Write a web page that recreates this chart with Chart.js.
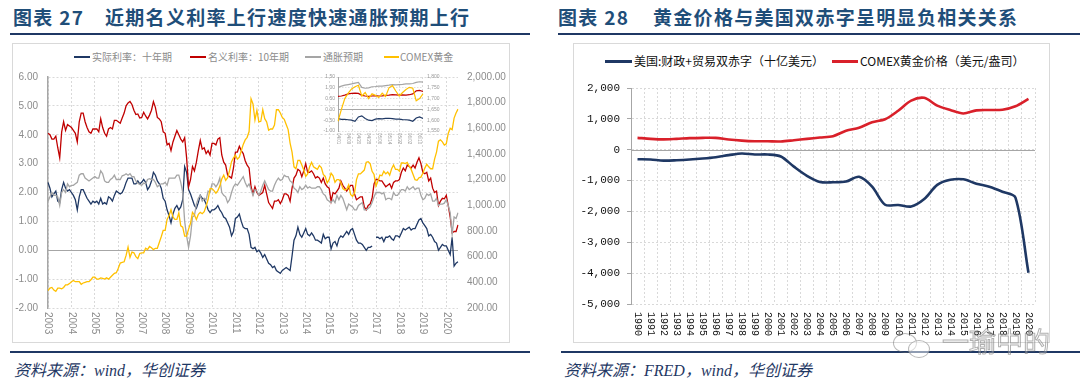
<!DOCTYPE html>
<html><head><meta charset="utf-8">
<script src="https://cdn.jsdelivr.net/npm/chart.js@4.4.1/dist/chart.umd.min.js"></script>
<style>
html,body{margin:0;padding:0;background:#fff;}
body{width:1080px;height:389px;overflow:hidden;position:relative;font-family:"Noto Sans CJK SC",sans-serif;}
.abs{position:absolute;}
.title{color:#1F4E79;font-weight:700;font-size:19px;line-height:20px;white-space:nowrap;letter-spacing:1.3px;}
.rule{background:#1F3864;height:2px;}
.box{border:1px solid #D9D9D9;box-sizing:border-box;}
.src{font-style:italic;color:#1F3864;font-size:16px;line-height:18px;font-family:"Liberation Serif","Noto Sans CJK SC",serif;white-space:nowrap;}
.lg{font-size:10px;line-height:12px;color:#8C8C8C;white-space:nowrap;}
.lgr{font-size:12px;line-height:14px;color:#111;white-space:nowrap;}
.ln{height:2px;}
.wm{font-size:27px;line-height:30px;color:rgba(255,255,255,0.3);-webkit-text-stroke:1px rgba(110,110,110,0.55);white-space:nowrap;font-family:"Noto Sans CJK SC";}
</style>
</head>
<body>
<!-- left panel -->
<div class="abs title" style="left:13px;top:7px;">图表 27</div>
<div class="abs title" style="left:105px;top:7px;">近期名义利率上行速度快速通胀预期上行</div>
<div class="abs rule" style="left:10px;top:33px;width:520px;"></div>
<div class="abs box" style="left:12px;top:43px;width:498px;height:300px;"></div>
<div class="abs ln" style="left:74px;top:56px;width:16px;background:#1F3864;"></div>
<div class="abs lg" style="left:92px;top:51px;">实际利率：十年期</div>
<div class="abs ln" style="left:190px;top:56px;width:16px;background:#C00000;"></div>
<div class="abs lg" style="left:208px;top:51px;">名义利率：10年期</div>
<div class="abs ln" style="left:305px;top:56px;width:16px;background:#A5A5A5;"></div>
<div class="abs lg" style="left:323px;top:51px;">通胀预期</div>
<div class="abs ln" style="left:384px;top:56px;width:15px;background:#FFC000;"></div>
<div class="abs lg" style="left:400px;top:51px;">COMEX黄金</div>
<div class="abs" style="left:13px;top:44px;"><canvas id="c1" width="496" height="298"></canvas></div>
<div class="abs" style="left:312px;top:68px;"><canvas id="c2" width="130" height="82"></canvas></div>
<div class="abs rule" style="left:10px;top:351px;width:520px;"></div>
<div class="abs src" style="left:14px;top:362px;">资料来源：wind，华创证券</div>

<!-- right panel -->
<div class="abs title" style="left:558px;top:7px;">图表 28</div>
<div class="abs title" style="left:653px;top:7px;">黄金价格与美国双赤字呈明显负相关关系</div>
<div class="abs rule" style="left:558px;top:33px;width:522px;"></div>
<div class="abs box" style="left:573px;top:43px;width:477px;height:300px;"></div>
<div class="abs" style="left:605px;top:60px;width:27px;height:3px;background:#1F3864;"></div>
<div class="abs lgr" style="left:634px;top:54px;">美国:财政+贸易双赤字（十亿美元）</div>
<div class="abs" style="left:832px;top:60px;width:26px;height:3px;background:#D9202A;"></div>
<div class="abs lgr" style="left:860px;top:54px;">COMEX黄金价格（美元/盎司）</div>
<div class="abs" style="left:574px;top:44px;"><canvas id="c3" width="475" height="298"></canvas></div>
<div class="abs rule" style="left:561px;top:351px;width:519px;"></div>
<div class="abs src" style="left:564px;top:362px;">资料来源：FRED，wind，华创证券</div>
<div class="abs" style="left:893px;top:333px;width:22px;height:18px;border:1px solid rgba(110,110,110,0.5);border-radius:50%;"></div>
<div class="abs" style="left:908px;top:340px;width:20px;height:16px;border:1px solid rgba(110,110,110,0.5);border-radius:50%;background:rgba(255,255,255,0.5);"></div>
<div class="abs wm" style="left:942px;top:326px;">一瑜中的</div>

<script>
// ---------------- Chart 27 data (monthly, Dec-2002 .. Jun-2020) ----------------
const yearTicks = ['2003','2004','2005','2006','2007','2008','2009','2010','2011','2012','2013','2014','2015','2016','2017','2018','2019','2020'];
const months = [];
for (let y = 2002, m = 12; months.length < 211; ) {
  months.push(y + '-' + String(m).padStart(2, '0'));
  m++; if (m > 12) { m = 1; y++; }
}
const realRate10y = [2.35,
 2.15,1.85,1.95,2.05,1.70,1.65,2.10,2.35,2.15,2.05,2.10,2.00,
 1.90,1.75,1.40,1.85,2.10,2.10,1.95,1.80,1.70,1.60,1.70,1.65,
 1.70,1.60,1.80,1.60,1.65,1.60,1.85,1.80,1.70,1.90,2.05,2.00,
 1.95,2.00,2.15,2.35,2.50,2.50,2.50,2.30,2.30,2.40,2.30,2.35,
 2.45,2.35,2.10,2.20,2.40,2.70,2.60,2.40,2.30,2.15,1.80,1.70,
 1.40,1.20,0.95,1.25,1.45,1.55,1.40,1.50,1.75,2.90,2.70,2.10,
 1.95,1.75,1.55,1.45,1.65,1.90,1.80,1.75,1.60,1.40,1.30,1.40,
 1.40,1.45,1.55,1.40,1.30,1.15,1.10,0.95,0.80,0.50,0.65,1.10,
 1.15,1.25,1.00,0.80,0.75,0.75,0.55,0.10,0.05,0.10,-0.05,0.00,
 -0.10,-0.25,-0.15,-0.30,-0.45,-0.50,-0.60,-0.55,-0.70,-0.75,-0.80,-0.70,
 -0.65,-0.60,-0.65,-0.70,-0.20,0.35,0.50,0.80,0.55,0.45,0.60,0.75,
 0.55,0.50,0.60,0.50,0.35,0.35,0.30,0.25,0.55,0.40,0.45,0.45,
 0.05,0.25,0.30,0.15,0.40,0.50,0.45,0.55,0.65,0.55,0.70,0.75,
 0.55,0.35,0.25,0.25,0.20,0.10,0.00,0.10,0.10,0.15,null,0.45,
 0.45,0.40,0.45,0.30,0.45,0.45,0.50,0.40,0.35,0.50,0.50,0.45,
 0.60,0.75,0.70,0.75,0.80,0.70,0.75,0.75,0.90,1.05,1.10,0.95,
 0.85,0.75,0.50,0.55,0.45,0.30,0.25,0.00,0.10,0.20,0.15,0.15,
 0.00,-0.15,0.45,-0.55,-0.45,-0.40];
const nominal10y = [4.05,
 4.00,3.85,3.85,3.95,3.55,3.20,4.10,4.45,4.15,4.35,4.30,4.25,
 4.15,4.05,3.75,4.45,4.75,4.75,4.45,4.25,4.10,4.05,4.20,4.20,
 4.20,4.10,4.55,4.25,4.05,3.95,4.20,4.25,4.20,4.50,4.50,4.45,
 4.40,4.58,4.75,5.00,5.10,5.15,5.05,4.85,4.70,4.72,4.58,4.60,
 4.78,4.65,4.55,4.68,4.85,5.15,4.95,4.60,4.55,4.45,4.10,4.05,
 3.65,3.70,3.45,3.75,3.95,4.15,4.00,3.85,3.75,3.90,3.20,2.20,
 2.45,2.90,2.75,3.05,3.45,3.80,3.50,3.55,3.35,3.45,3.30,3.70,
 3.70,3.65,3.85,3.90,3.30,3.05,2.95,2.60,2.55,2.50,2.85,3.40,
 3.40,3.60,3.45,3.35,3.10,2.95,2.85,2.20,1.95,2.20,2.00,1.90,
 1.95,2.00,2.25,1.95,1.65,1.55,1.45,1.70,1.70,1.75,1.62,1.75,
 1.95,1.95,1.90,1.70,2.15,2.50,2.60,2.80,2.75,2.55,2.75,3.00,
 2.70,2.70,2.75,2.65,2.50,2.55,2.50,2.35,2.50,2.30,2.20,2.15,
 1.70,2.00,1.95,2.05,2.15,2.40,2.25,2.15,2.05,2.15,2.25,2.25,
 1.95,1.75,1.80,1.85,1.85,1.50,1.40,1.55,1.60,1.80,2.30,2.45,
 2.45,2.40,2.40,2.30,2.20,2.25,2.30,2.15,2.35,2.40,2.40,2.45,
 2.70,2.85,2.75,2.95,2.90,2.85,2.95,2.85,3.05,3.20,3.00,2.70,
 2.65,2.70,2.40,2.50,2.15,2.00,2.05,1.55,1.70,1.80,1.78,1.90,
 1.55,1.15,0.60,0.65,0.65,0.88];
const breakeven = [1.70,
 1.85,2.00,1.90,1.90,1.85,1.55,2.00,2.10,2.00,2.30,2.20,2.25,
 2.25,2.30,2.35,2.60,2.65,2.65,2.50,2.45,2.40,2.45,2.50,2.55,
 2.50,2.50,2.75,2.65,2.40,2.35,2.35,2.45,2.50,2.60,2.45,2.45,
 2.45,2.58,2.60,2.65,2.60,2.65,2.55,2.55,2.40,2.32,2.28,2.25,
 2.33,2.30,2.45,2.48,2.45,2.45,2.35,2.20,2.25,2.30,2.30,2.35,
 2.25,2.50,2.50,2.50,2.50,2.60,2.60,2.35,2.00,1.00,0.50,0.10,
 0.50,1.15,1.20,1.60,1.80,1.90,1.70,1.80,1.75,2.05,2.00,2.30,
 2.30,2.20,2.30,2.50,2.00,1.90,1.85,1.65,1.75,2.00,2.20,2.30,
 2.25,2.35,2.45,2.55,2.35,2.20,2.30,2.10,1.90,2.10,2.05,1.90,
 2.05,2.25,2.40,2.25,2.10,2.05,2.05,2.25,2.40,2.50,2.42,2.45,
 2.60,2.55,2.55,2.40,2.35,2.15,2.10,2.00,2.20,2.10,2.15,2.25,
 2.15,2.20,2.15,2.15,2.15,2.20,2.20,2.10,1.95,1.90,1.75,1.70,
 1.65,1.75,1.65,1.90,1.75,1.90,1.80,1.60,1.40,1.60,1.55,1.50,
 1.40,1.40,1.55,1.60,1.65,1.40,1.40,1.45,1.50,1.65,1.85,2.00,
 2.00,2.00,1.95,2.00,1.75,1.80,1.80,1.75,2.00,1.90,1.90,2.00,
 2.10,2.10,2.05,2.20,2.10,2.15,2.20,2.10,2.15,2.15,1.90,1.75,
 1.80,1.95,1.90,1.95,1.70,1.70,1.80,1.55,1.60,1.60,1.63,1.75,
 1.55,1.30,0.55,1.15,1.10,1.30];
const comexGold = [335,
 355,360,340,330,355,355,350,360,380,380,390,405,
 415,405,405,405,385,395,400,405,405,420,440,440,
 425,425,435,430,425,435,425,440,455,470,475,510,
 550,555,560,610,675,595,635,630,600,585,625,630,
 630,665,655,680,670,655,665,665,710,755,805,805,
 890,920,965,910,890,890,940,840,830,760,760,815,
 860,945,925,890,930,945,935,950,995,1045,1130,1130,
 1115,1095,1115,1150,1205,1235,1195,1215,1270,1340,1370,1390,
 1360,1375,1425,1475,1510,1530,1575,1830,1790,1665,1740,1650,
 1655,1745,1675,1650,1585,1595,1595,1625,1745,1745,1720,1685,
 1670,1630,1590,1485,1415,1300,1285,1350,1350,1315,1275,1225,
 1245,1300,1335,1300,1290,1280,1310,1295,1240,1225,1175,1200,
 1250,1230,1180,1200,1200,1180,1130,1120,1125,1160,1085,1070,
 1095,1200,1245,1245,1260,1275,1335,1340,1325,1265,1240,1150,
 1190,1235,1230,1265,1245,1260,1235,1285,1315,1280,1280,1265,
 1330,1330,1325,1335,1305,1280,1240,1200,1195,1215,1220,1250,
 1290,1320,1300,1285,1285,1360,1415,1500,1510,1495,1470,1480,
 1560,1600,1590,1680,1720,1750];

// ---------------- inset data ----------------
const insetDates = ['04/01','04/03','04/07','04/09','04/14','04/16','04/20','04/22','04/24','04/28','04/30','05/04','05/06',
 '05/08','05/12','05/14','05/18','05/20','05/22','05/27','05/29','06/02','06/04','06/08','06/10','06/12'];
const insetReal = [-0.43,-0.46,-0.46,-0.48,-0.50,-0.55,-0.35,-0.30,-0.42,-0.50,-0.52,-0.45,-0.43,-0.44,-0.42,-0.41,-0.43,-0.45,-0.45,-0.47,-0.48,-0.50,-0.55,-0.40,-0.35,-0.42];
const insetNominal = [0.60,0.62,0.66,0.72,0.74,0.75,0.74,0.65,0.62,0.60,0.62,0.64,0.62,0.63,0.65,0.66,0.68,0.67,0.66,0.67,0.66,0.68,0.72,0.86,0.88,0.83];
const insetBreakeven = [1.02,1.08,1.12,1.15,1.18,1.22,1.25,1.02,0.98,1.00,1.05,1.06,1.08,1.08,1.10,1.12,1.15,1.14,1.15,1.16,1.18,1.18,1.20,1.25,1.28,1.26];
const insetGold = [1595,1650,1700,1725,1745,1755,1762,1712,1728,1700,1722,1715,1705,1725,1710,1750,1760,1735,1712,1728,1742,1752,1748,1690,1700,1722];

// ---------------- Chart 28 data ----------------
const years = ['1990','1991','1992','1993','1994','1995','1996','1997','1998','1999','2000','2001','2002','2003','2004','2005',
 '2006','2007','2008','2009','2010','2011','2012','2013','2014','2015','2016','2017','2018','2019','2020'];
const twinDeficit = [-308,-319,-352,-341,-319,-286,-242,-176,-121,-154,-154,-220,-549,-846,-1044,-1055,
 -1033,-879,-1198,-1784,-1790,-1840,-1600,-1140,-975,-960,-1100,-1200,-1360,-1550,-3990];
const goldAnnual = [385,352,335,352,374,385,385,330,295,275,272,268,308,352,396,440,
 615,714,890,989,1264,1593,1681,1429,1286,1176,1275,1286,1297,1407,1648];

// ---------------- helpers ----------------
Chart.defaults.font.family = 'Liberation Sans';
Chart.defaults.animation = false;

function decor(opt) {
  return {
    id: 'decor',
    beforeDatasetsDraw(chart) {
      if (!opt.zero) return;
      const {ctx, chartArea: a, scales} = chart;
      const y = Math.round(scales[opt.zero.axis].getPixelForValue(0)) + 0.5;
      ctx.save();
      ctx.strokeStyle = opt.zero.color; ctx.lineWidth = opt.zero.width;
      ctx.beginPath(); ctx.moveTo(a.left, y); ctx.lineTo(a.right, y); ctx.stroke();
      ctx.restore();
    },
    afterDraw(chart) {
      if (!opt.labels) return;
      const {ctx, chartArea: a, scales} = chart;
      ctx.save();
      ctx.fillStyle = opt.labels.color; ctx.font = opt.labels.font;
      ctx.textAlign = 'left'; ctx.textBaseline = 'middle';
      opt.labels.items.forEach(([idx, text]) => {
        const x = scales.x.getPixelForValue(idx);
        ctx.save(); ctx.translate(x, a.bottom + opt.labels.gap); ctx.rotate(Math.PI / 2);
        ctx.fillText(text, 0, 0); ctx.restore();
      });
      ctx.restore();
    }
  };
}
const fmt2 = v => v.toLocaleString('en-US', {minimumFractionDigits: 2, maximumFractionDigits: 2});
const line = (label, data, color, width, axis, order, extra) => Object.assign({
  label, data, borderColor: color, backgroundColor: color, borderWidth: width, pointRadius: 0,
  yAxisID: axis, order, spanGaps: false, tension: 0
}, extra || {});

// ---------------- Chart 27 ----------------
new Chart(document.getElementById('c1'), {
  type: 'line',
  data: {
    labels: months,
    datasets: [
      line('实际利率：十年期', realRate10y, '#1F3864', 1.3, 'y', 3),
      line('名义利率：10年期', nominal10y, '#C00000', 1.3, 'y', 2),
      line('通胀预期', breakeven, '#A5A5A5', 1.3, 'y', 1),
      line('COMEX黄金', comexGold, '#FFC000', 1.3, 'y2', 0)
    ]
  },
  options: {
    responsive: false, devicePixelRatio: 1, events: [],
    layout: {padding: {top: 33, left: 0, right: 0, bottom: 0}},
    plugins: {legend: {display: false}, tooltip: {enabled: false}},
    scales: {
      x: {type: 'category', offset: false,
        ticks: {display: false, autoSkip: false},
        grid: {color: c => (c.index % 12 === 0 ? '#D9D9D9' : 'rgba(0,0,0,0)'), drawTicks: false},
        border: {display: false, dash: [2, 2]},
        afterFit: s => { s.height = 34; }},
      y: {position: 'left', min: -2, max: 6,
        ticks: {stepSize: 1, callback: v => fmt2(v), color: '#8C8C8C', font: {size: 10}, padding: 10},
        grid: {color: '#D9D9D9', drawTicks: false},
        border: {display: true, color: '#A6A6A6', width: 1.5, dash: [2, 2]},
        afterFit: s => { s.width = 35; }},
      y2: {position: 'right', min: 200, max: 2000,
        ticks: {stepSize: 200, callback: v => fmt2(v), color: '#8C8C8C', font: {size: 10}, padding: 9},
        grid: {display: false, drawTicks: false}, border: {display: false},
        afterFit: s => { s.width = 51; }}
    }
  },
  plugins: [decor({
    zero: {axis: 'y', color: '#A6A6A6', width: 1.2},
    labels: {items: yearTicks.map((t, k) => [k * 12, t]), color: '#8C8C8C', font: '10px "Liberation Sans"', gap: 4}
  })]
});

// ---------------- inset ----------------
new Chart(document.getElementById('c2'), {
  type: 'line',
  data: {
    labels: insetDates,
    datasets: [
      line('实际利率', insetReal, '#1F3864', 1.2, 'y', 3),
      line('名义利率', insetNominal, '#C00000', 1.2, 'y', 2),
      line('通胀预期', insetBreakeven, '#A5A5A5', 1.2, 'y', 1),
      line('COMEX黄金', insetGold, '#FFC000', 1.2, 'y2', 0)
    ]
  },
  options: {
    responsive: false, devicePixelRatio: 1, events: [],
    layout: {padding: {top: 9, left: 0, right: 0, bottom: 0}},
    plugins: {legend: {display: false}, tooltip: {enabled: false}},
    scales: {
      x: {type: 'category', offset: false, ticks: {display: false, autoSkip: false},
        grid: {display: false}, border: {display: false},
        afterFit: s => { s.height = 19; }},
      y: {position: 'left', min: -1, max: 1.5,
        ticks: {stepSize: 0.5, callback: v => fmt2(v), color: '#999', font: {size: 5}, padding: 3},
        grid: {color: '#E0E0E0', drawTicks: false},
        border: {display: true, color: '#A6A6A6', width: 1, dash: [1.5, 1.5]},
        afterFit: s => { s.width = 26; }},
      y2: {position: 'right', min: 1550, max: 1800,
        ticks: {stepSize: 50, color: '#999', font: {size: 5}, padding: 4},
        grid: {display: false, drawTicks: false}, border: {display: false},
        afterFit: s => { s.width = 19; }}
    }
  },
  plugins: [decor({
    zero: {axis: 'y', color: '#A6A6A6', width: 1},
    labels: {items: insetDates.map((d, i) => [i, d]).filter((p, i) => i % 3 === 0), color: '#999', font: '4.5px "Liberation Sans"', gap: 2}
  })]
});

// ---------------- Chart 28 ----------------
new Chart(document.getElementById('c3'), {
  type: 'line',
  data: {
    labels: years,
    datasets: [
      line('美国:财政+贸易双赤字（十亿美元）', twinDeficit, '#1F3864', 2.6, 'y', 1, {tension: 0.3}),
      line('COMEX黄金价格（美元/盎司）', goldAnnual, '#D9202A', 2.6, 'y', 0, {tension: 0.3})
    ]
  },
  options: {
    responsive: false, devicePixelRatio: 1, events: [],
    layout: {padding: {top: 44, left: 0, right: 14, bottom: 0}},
    plugins: {legend: {display: false}, tooltip: {enabled: false}},
    scales: {
      x: {type: 'category', offset: true,
        ticks: {display: false, autoSkip: false},
        grid: {offset: true, color: '#D9D9D9', drawTicks: false},
        border: {display: false, dash: [2, 2]},
        afterFit: s => { s.height = 38; }},
      y: {position: 'left', min: -5000, max: 2000,
        ticks: {stepSize: 1000, callback: v => v.toLocaleString('en-US'), color: '#111', font: {size: 11, family: 'Liberation Mono'}, padding: 7},
        grid: {color: '#D9D9D9', drawTicks: true, tickLength: 4, tickColor: '#A6A6A6'},
        border: {display: true, color: '#A6A6A6', width: 1, dash: [2, 2]},
        afterFit: s => { s.width = 57; }}
    }
  },
  plugins: [decor({
    zero: {axis: 'y', color: '#A6A6A6', width: 1},
    labels: {items: years.map((y, i) => [i, y]), color: '#111', font: '10px "Liberation Mono"', gap: 8}
  })]
});
</script>
</body></html>
